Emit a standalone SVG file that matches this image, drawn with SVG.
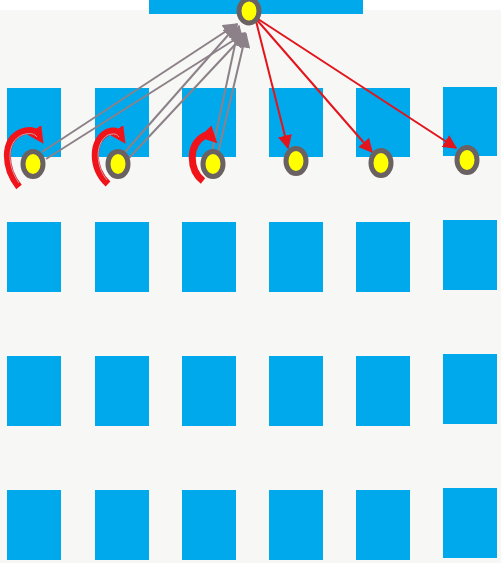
<svg xmlns="http://www.w3.org/2000/svg" width="501" height="563" viewBox="0 0 501 563">
<defs>
<style>
.box{fill:#00a9eb}
.node{fill:#ffff00;stroke:#6a6262;stroke-width:5}
.gl{stroke:#8c8189;stroke-width:2;fill:none}
.rl{stroke:#e2141c;stroke-width:2;fill:none}
.loop{stroke:#f0141a;stroke-width:7;fill:none;stroke-linecap:butt}
.loopin{stroke:#c9a0a6;stroke-width:1;fill:none}
</style>
<marker id="ga" viewBox="0 0 10 10" refX="9" refY="5" markerWidth="7.5" markerHeight="7.5" markerUnits="strokeWidth" orient="auto"><path d="M0,0 L10,5 L0,10 z" fill="#8c8189"/></marker>
<marker id="ra" viewBox="0 0 10 10" refX="9" refY="5" markerWidth="7" markerHeight="7" markerUnits="strokeWidth" orient="auto"><path d="M0,0 L10,5 L0,10 z" fill="#e2141c"/></marker>
<marker id="la" viewBox="0 0 10 10" refX="3" refY="5" markerWidth="2.4" markerHeight="2.4" markerUnits="strokeWidth" orient="auto"><path d="M0,0 L10,5 L0,10 z" fill="#f0141a"/></marker>
</defs>
<rect x="0" y="0" width="501" height="563" fill="#ffffff"/>
<rect x="0" y="10" width="501" height="553" fill="#f7f7f5"/>
<g id="top"><rect class="box" x="149" y="0" width="214" height="14"/></g>
<g id="grid">
<rect class="box" x="7" y="88" width="54" height="69"/>
<rect class="box" x="95" y="88" width="54" height="69"/>
<rect class="box" x="182" y="88" width="54" height="69"/>
<rect class="box" x="269" y="88" width="54" height="69"/>
<rect class="box" x="356" y="88" width="54" height="69"/>
<rect class="box" x="443" y="87" width="54" height="69"/>
<rect class="box" x="7" y="222" width="54" height="70"/>
<rect class="box" x="95" y="222" width="54" height="70"/>
<rect class="box" x="182" y="222" width="54" height="70"/>
<rect class="box" x="269" y="222" width="54" height="70"/>
<rect class="box" x="356" y="222" width="54" height="70"/>
<rect class="box" x="443" y="220" width="54" height="70"/>
<rect class="box" x="7" y="356" width="54" height="70"/>
<rect class="box" x="95" y="356" width="54" height="70"/>
<rect class="box" x="182" y="356" width="54" height="70"/>
<rect class="box" x="269" y="356" width="54" height="70"/>
<rect class="box" x="356" y="356" width="54" height="70"/>
<rect class="box" x="443" y="354" width="54" height="70"/>
<rect class="box" x="7" y="490" width="54" height="70"/>
<rect class="box" x="95" y="490" width="54" height="70"/>
<rect class="box" x="182" y="490" width="54" height="70"/>
<rect class="box" x="269" y="490" width="54" height="70"/>
<rect class="box" x="356" y="490" width="54" height="70"/>
<rect class="box" x="443" y="488" width="54" height="70"/>
</g>
<g id="connectors">
<line class="gl" x1="42" y1="152" x2="237" y2="24" marker-end="url(#ga)"/>
<line class="gl" x1="46" y1="159" x2="245" y2="33" marker-end="url(#ga)"/>
<line class="gl" x1="125" y1="152" x2="237" y2="25" marker-end="url(#ga)"/>
<line class="gl" x1="129" y1="158" x2="245" y2="34" marker-end="url(#ga)"/>
<line class="gl" x1="212" y1="152" x2="239" y2="26" marker-end="url(#ga)"/>
<line class="gl" x1="218" y1="153" x2="246" y2="34" marker-end="url(#ga)"/>
<line class="rl" x1="256" y1="21" x2="288" y2="148" marker-end="url(#ra)"/>
<line class="rl" x1="257" y1="20" x2="372" y2="152" marker-end="url(#ra)"/>
<line class="rl" x1="258" y1="19" x2="456" y2="148" marker-end="url(#ra)"/>
<path class="loop" d="M19,187 C4,168 2,140 22,132 C30,129 35,131 37,134" marker-end="url(#la)"/>
<path class="loopin" d="M19,183 C7,166 6,142 22,135 C30,132 35,134 37,137"/>
<path class="loop" d="M108,184 C91,168 91,140 108,132 C114,130 117,131 119,134" marker-end="url(#la)"/>
<path class="loopin" d="M107,180 C95,166 95,142 108,135 C114,133 117,134 119,137"/>
<path class="loop" d="M203,181 C189,170 188,145 204,136 C206,135 208,134 209,135" marker-end="url(#la)"/>
</g>
<g id="n0"><ellipse class="node" cx="249" cy="11" rx="10" ry="12"/></g>
<g id="n1"><ellipse class="node" cx="33" cy="164" rx="10" ry="12.5"/></g>
<g id="n2"><ellipse class="node" cx="118" cy="164" rx="10" ry="12.5"/></g>
<g id="n3"><ellipse class="node" cx="213" cy="164" rx="10" ry="12.5"/></g>
<g id="n4"><ellipse class="node" cx="296" cy="161" rx="10" ry="12.5"/></g>
<g id="n5"><ellipse class="node" cx="381" cy="163" rx="10" ry="12.5"/></g>
<g id="n6"><ellipse class="node" cx="467" cy="160" rx="10" ry="12.5"/></g>
</svg>
